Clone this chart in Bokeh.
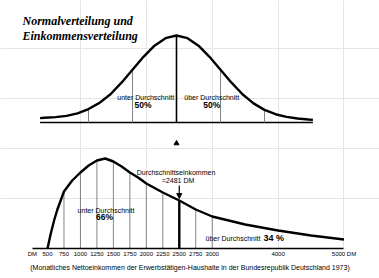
from bokeh.plotting import figure
from bokeh.models import (Range1d, LinearAxis, FixedTicker, Label, Arrow, NormalHead)
from bokeh.embed import file_html
from bokeh.resources import INLINE

# ---- data -------------------------------------------------------------
# normal distribution (x in standard deviations, y in % of peak height)
norm_z = [-3.1, -3.0, -2.75, -2.5, -2.25, -2.0, -1.75, -1.5, -1.25, -1.0, -0.75, -0.5, -0.25,
          0.0, 0.25, 0.5, 0.75, 1.0, 1.25, 1.5, 1.75, 2.0, 2.25, 2.5, 2.75, 3.0, 3.1]
norm_h = [5.0, 5.4, 6.2, 7.6, 10.5, 15.5, 22.5, 32.5, 45.8, 60.7, 75.5, 88.3, 96.9,
          100.0, 96.9, 88.3, 75.5, 60.7, 45.8, 32.5, 22.0, 14.5, 9.5, 6.5, 4.6, 3.4, 3.0]
norm_lines = [-2.0, -1.0, 0.0, 1.0, 2.0]

# income distribution (monthly net income in DM, relative frequency)
inc_dm = [500, 550, 600, 650, 700, 750, 875, 1000, 1125, 1250, 1375, 1500, 1625, 1750,
          1875, 2000, 2250, 2500, 2750, 3000, 3250, 3500, 4000, 4500, 5000]
inc_h = [0, 15, 28, 39, 48, 57, 68, 76, 83, 88, 90, 87, 82, 76,
         71, 65, 56, 48, 39, 32, 28, 24, 18, 13, 9]
tick_dm = [500, 750, 1000, 1250, 1500, 1750, 2000, 2250, 2500, 2750, 3000, 4000, 5000]
tick_labels = {5000: "5000 DM"}
unit_label = "DM"
line_dm = [750, 1000, 1250, 1500, 1750, 2000, 2250, 2500, 2750, 3000]
mean_income = 2481
mean_tick = 2500

# ---- figure -----------------------------------------------------------
p = figure(frame_width=379, frame_height=248,
           x_range=Range1d(-213.3, 5538.8), y_range=Range1d(0, 248),
           output_backend="svg", toolbar_location=None, min_border=0,
           x_axis_location=None, y_axis_location=None)
p.outline_line_color = None
p.background_fill_color = "white"
p.border_fill_color = "white"
p.extra_x_ranges = {"z": Range1d(-4.0, 4.6136)}
p.extra_y_ranges = {"n": Range1d(-144.83, 140.23)}

SANS = "Liberation Sans"

# ---- top chart: normal distribution ------------------------------------
p.segment(x0=[norm_z[0]], x1=[norm_z[-1]], y0=[0], y1=[0], line_color="black",
          line_width=1.5, x_range_name="z", y_range_name="n")
zl = [z for z in norm_lines if z != 0.0]
p.segment(x0=zl, x1=zl, y0=[0] * len(zl), y1=[norm_h[norm_z.index(z)] for z in zl],
          line_color="#777777", line_width=0.9, x_range_name="z", y_range_name="n")
p.segment(x0=[0.0], x1=[0.0], y0=[0], y1=[norm_h[norm_z.index(0.0)]],
          line_color="black", line_width=1.6, x_range_name="z", y_range_name="n")
p.line(norm_z, norm_h, line_color="black", line_width=2.4,
       x_range_name="z", y_range_name="n")
p.scatter(x=[0.0], y=[-24], marker="triangle", size=5, color="black",
          x_range_name="z", y_range_name="n")

def lab(text, x, y, size, rn=("z", "n"), bold=False, align="center", font=SANS,
        style=None, baseline="middle"):
    st = style if style else ("bold" if bold else "normal")
    p.add_layout(Label(x=x, y=y, text=text, text_font=font, text_font_size=f"{size}px",
                       text_font_style=st, text_align=align, text_baseline=baseline,
                       text_color="#000000", x_range_name=rn[0], y_range_name=rn[1]))

lab("Normalverteilung und", -3.5, 117.2, 12, font="Liberation Serif",
    style="bold italic", align="left")
lab("Einkommensverteilung", -3.5, 99.0, 12, font="Liberation Serif",
    style="bold italic", align="left")
lab("unter Durchschnitt", -0.70, 28.7, 7)
lab("50%", -0.76, 20.1, 8.5, bold=True)
lab("über Durchschnitt", 0.80, 28.7, 7)
lab("50%", 0.80, 20.4, 8.5, bold=True)

# ---- bottom chart: income distribution ---------------------------------
thin = [d for d in line_dm if d != mean_tick]
p.segment(x0=thin, x1=thin, y0=[0] * len(thin),
          y1=[inc_h[inc_dm.index(d)] for d in thin],
          line_color="#777777", line_width=0.9)
p.segment(x0=[mean_tick], x1=[mean_tick], y0=[0], y1=[inc_h[inc_dm.index(mean_tick)]],
          line_color="black", line_width=2.4)
p.line(inc_dm, inc_h, line_color="black", line_width=2.4)
p.add_layout(Arrow(end=NormalHead(size=5, fill_color="black", line_color="black"),
                   x_start=mean_tick, y_start=63, x_end=mean_tick,
                   y_end=inc_h[inc_dm.index(mean_tick)] + 2, line_width=1.2,
                   line_color="black"))

B = ("default", "default")
lab("unter Durchschnitt", 1388, 38.5, 7, rn=B)
lab("66%", 1365, 32, 8.5, rn=B, bold=True)
lab("Durchschnittseinkommen", 2450, 76.5, 7, rn=B)
lab("=2481 DM", mean_income, 68, 7, rn=B)
lab("über Durchschnitt", 2898, 10.5, 7, rn=B, align="left")
lab("34 %", 3778, 11, 9, rn=B, bold=True, align="left")

unit_pos = 270
overrides = {unit_pos: unit_label}
overrides.update(tick_labels)
ax = LinearAxis(ticker=FixedTicker(ticks=[unit_pos] + tick_dm), bounds=(unit_pos, 5000))
ax.major_label_overrides = overrides
ax.axis_line_color = "black"
ax.axis_line_width = 1.5
ax.major_tick_out = 0
ax.major_tick_in = 0
ax.minor_tick_line_color = None
ax.major_label_standoff = 2
ax.major_label_text_font = SANS
ax.major_label_text_font_size = "6px"
ax.major_label_text_color = "#000000"
ax.axis_label = "(Monatliches Nettoeinkommen der Erwerbstätigen-Haushalte in der Bundesrepublik Deutschland 1973)"
ax.axis_label_text_font = SANS
ax.axis_label_text_font_size = "7px"
ax.axis_label_text_font_style = "normal"
ax.axis_label_text_color = "#000000"
ax.axis_label_standoff = 4
p.add_layout(ax, "below")

open("out.html", "w").write(file_html(p, INLINE))
